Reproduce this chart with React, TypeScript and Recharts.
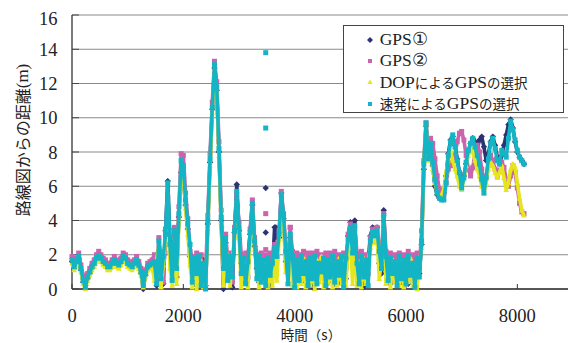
import { ScatterChart, Scatter, XAxis, YAxis, CartesianGrid } from 'recharts'

// time (s), sampled every 40 s
const times = [
  0, 40, 80, 120, 160, 200, 240, 280, 320, 360,
  400, 440, 480, 520, 560, 600, 640, 680, 720, 760,
  800, 840, 880, 920, 960, 1000, 1040, 1080, 1120, 1160,
  1200, 1240, 1280, 1320, 1360, 1400, 1440, 1480, 1520, 1560,
  1600, 1640, 1680, 1720, 1760, 1800, 1840, 1880, 1920, 1960,
  2000, 2040, 2080, 2120, 2160, 2200, 2240, 2280, 2320, 2360,
  2400, 2440, 2480, 2520, 2560, 2600, 2640, 2680, 2720, 2760,
  2800, 2840, 2880, 2920, 2960, 3000, 3040, 3080, 3120, 3160,
  3200, 3240, 3280, 3320, 3360, 3400, 3440, 3480, 3520, 3560,
  3600, 3640, 3680, 3720, 3760, 3800, 3840, 3880, 3920, 3960,
  4000, 4040, 4080, 4120, 4160, 4200, 4240, 4280, 4320, 4360,
  4400, 4440, 4480, 4520, 4560, 4600, 4640, 4680, 4720, 4760,
  4800, 4840, 4880, 4920, 4960, 5000, 5040, 5080, 5120, 5160,
  5200, 5240, 5280, 5320, 5360, 5400, 5440, 5480, 5520, 5560,
  5600, 5640, 5680, 5720, 5760, 5800, 5840, 5880, 5920, 5960,
  6000, 6040, 6080, 6120, 6160, 6200, 6240, 6280, 6320, 6360,
  6400, 6440, 6480, 6520, 6560, 6600, 6640, 6680, 6720, 6760,
  6800, 6840, 6880, 6920, 6960, 7000, 7040, 7080, 7120, 7160,
  7200, 7240, 7280, 7320, 7360, 7400, 7440, 7480, 7520, 7560,
  7600, 7640, 7680, 7720, 7760, 7800, 7840, 7880, 7920, 7960,
  8000, 8040, 8080, 8120,
]

// GPS①
const gps1 = [
  1.6, 1.2, 1.5, 1.8, 1.1, 0.4, 0.2, 0.6, 0.9, 1.2, 1.4, 1.7, 1.8, 1.7, 1.5, 1.4, 1.2, 1.2, 1.4, 1.6,
  1.4, 1.3, 1.5, 1.8, 1.7, 1.4, 1.3, 1.2, 1.4, 1.6, 1.3, 0.9, 0.0, 0.8, 1.2, 1.3, 1.4,
  1.3, 0.2, 2.2, 1.0, 0.3, 3.4, 6.3, 2.8, 1.1, 3.5,
  0.7, 4.2, 6.8, 6.5, 4.9, 3.5, 1.9, 1.0, 0.3, 1.5,
  0.4, 1.3, 1.7, 0.2, 3.8, 7.4, 10.5, 12.9, 11.6, 8.0,
  4.0, 0.0, 2.7, 0.9, 1.4, 0.1, 3.3, 6.1, 3.4, 1.5,
  0.5, 1.2, 1.9, 3.2, 4.9, 2.5, 1.2, 0.4, 1.6, 1.0,
  1.2, 1.5, 0.2, 1.1, 3.6, 3.0, 3.0, 5.6, 4.1, 1.6,
  0.9, 3.0, 1.2, 0.7, 1.5, 1.3, 0.4, 1.5, 1.2, 0.8,
  1.4, 0.1, 1.6, 1.1, 0.6, 1.7, 1.2, 0.9, 0.4, 1.8,
  1.1, 0.3, 1.7, 0.4, 1.4, 1.2, 0.6, 3.1, 3.9, 1.8,
  4.0, 0.9, 1.4, 1.2, 0.1, 1.3, 1.6, 3.1, 3.6, 3.4,
  3.6, 1.5, 0.9, 4.6, 1.1, 1.4, 0.3, 1.2, 1.5, 0.7,
  1.3, 0.4, 1.5, 1.0, 0.3, 1.7, 1.3, 0.5, 1.6, 0.9, 2.6,
  7.0, 9.5, 7.8, 8.3, 7.2, 6.0, 5.5, 5.3, 5.4, 5.6,
  6.6, 7.9, 8.7, 8.9, 8.4, 7.6, 6.8, 6.3, 6.6, 7.3,
  8.0, 8.5, 8.8, 8.6, 8.2, 8.7, 8.9, 8.3, 7.5, 7.9,
  8.6, 8.9, 8.4, 7.7, 7.3, 7.8, 8.4, 9.0, 9.6, 9.9,
  9.4, 8.6, 8.0, 7.7, 7.5, 7.3,
]

// GPS②
const gps2 = [
  1.9, 1.5, 1.8, 2.1, 1.4, 0.8, 0.6, 0.9, 1.2, 1.5, 1.7, 2.0, 2.2, 2.0, 1.8, 1.7, 1.5, 1.5, 1.7, 1.9,
  1.7, 1.6, 1.8, 2.1, 2.0, 1.7, 1.6, 1.5, 1.7, 1.9, 1.6, 1.2, 0.8, 1.1, 1.5, 1.6, 1.7,
  2.0, 0.8, 3.0, 1.9, 0.4, 3.5, 5.4, 2.1, 1.8, 3.6,
  2.0, 4.8, 7.9, 7.8, 5.6, 4.1, 2.2, 1.9, 0.6, 2.1,
  1.2, 2.0, 0.8, 1.0, 4.3, 7.9, 10.9, 13.3, 12.1, 8.6,
  4.6, 2.0, 3.2, 1.6, 2.1, 0.4, 3.6, 5.5, 3.9, 2.0,
  0.9, 2.1, 0.7, 3.5, 5.2, 3.0, 2.0, 1.1, 2.1, 0.8,
  2.0, 0.5, 2.1, 1.3, 2.6, 2.2, 3.4, 5.7, 4.4, 2.4,
  1.9, 3.6, 2.2, 1.4, 2.1, 1.0, 2.0, 2.2, 0.6, 2.1,
  1.2, 2.1, 0.5, 2.2, 1.8, 2.0, 0.7, 2.1, 1.3, 2.1,
  0.8, 2.2, 1.4, 2.0, 0.6, 2.1, 1.2, 3.2, 3.8, 2.4,
  3.5, 2.1, 1.0, 2.2, 1.6, 2.0, 0.9, 3.0, 3.5, 3.3,
  3.6, 2.4, 2.0, 4.4, 2.2, 1.3, 2.1, 0.5, 2.0, 1.5,
  2.1, 0.9, 2.0, 1.4, 2.2, 0.6, 2.0, 1.7, 2.1, 1.2, 3.4,
  7.5, 9.7, 8.0, 8.8, 8.5, 7.6, 6.6, 5.8, 5.3, 5.5,
  6.2, 7.0, 7.4, 7.2, 7.8, 8.6, 9.1, 9.2, 8.7, 7.8,
  7.0, 6.6, 7.1, 7.9, 8.4, 8.0, 7.0, 6.2, 6.6, 7.4,
  7.8, 7.5, 7.0, 6.6, 6.9, 7.4, 7.1, 6.4, 6.0, 6.6,
  7.2, 6.8, 5.9, 5.0, 4.5, 4.4,
]

// DOPによるGPSの選択
const dopSel = [
  1.5, 1.1, 1.4, 1.7, 1.0, 0.3, 0.0, 0.5, 0.8, 1.1, 1.3, 1.6, 1.7, 1.6, 1.4, 1.3, 1.1, 1.1, 1.3, 1.5,
  1.3, 1.2, 1.4, 1.7, 1.6, 1.3, 1.2, 1.1, 1.3, 1.5, 1.2, 0.8, 0.1, 0.7, 1.1, 1.2, 1.3,
  0.5, 1.7, 2.5, 0.1, 1.4, 2.9, 4.6, 1.2, 0.2, 3.0,
  0.3, 4.0, 7.0, 6.6, 4.7, 3.2, 1.4, 0.1, 1.3, 0.0,
  1.1, 1.6, 0.1, 0.3, 3.6, 7.2, 10.3, 12.8, 11.5, 7.8,
  3.9, 0.2, 2.6, 1.5, 0.2, 1.6, 3.0, 5.2, 3.2, 0.1,
  1.2, 1.6, 0.1, 3.0, 4.6, 2.3, 1.5, 0.1, 1.3, 0.4,
  1.6, 0.1, 1.4, 0.2, 1.9, 0.5, 2.9, 5.1, 3.9, 1.0,
  1.5, 2.8, 0.2, 1.3, 0.1, 1.6, 0.3, 1.8, 0.1, 1.4,
  0.2, 1.5, 0.0, 1.7, 0.4, 1.9, 0.1, 1.3, 0.3, 1.6,
  0.1, 1.5, 0.2, 1.8, 0.3, 1.6, 0.2, 2.5, 3.2, 0.3,
  3.2, 0.2, 1.6, 0.1, 1.8, 0.3, 1.5, 2.4, 2.9, 2.7,
  3.0, 0.6, 1.7, 3.9, 0.3, 1.6, 0.1, 1.7, 0.4, 1.5,
  0.2, 1.6, 0.1, 1.3, 0.4, 1.8, 0.2, 1.4, 0.0, 1.5, 2.4,
  7.2, 9.6, 7.5, 8.0, 7.0, 6.2, 5.6, 5.4, 5.5, 5.8,
  6.8, 7.6, 8.1, 7.5, 7.0, 6.6, 6.0, 5.8, 6.4, 7.2,
  7.8, 8.3, 8.0, 7.5, 7.0, 6.6, 6.0, 5.6, 6.2, 7.0,
  7.4, 7.2, 6.8, 6.5, 6.8, 7.2, 6.5, 5.8, 6.2, 7.0,
  7.3, 7.1, 6.2, 5.3, 4.6, 4.3,
]

// 速発によるGPSの選択
const sokuSel = [
  1.7, 1.3, 1.6, 1.9, 1.2, 0.5, 0.1, 0.7, 1.0, 1.3, 1.5, 1.8, 1.9, 1.8, 1.6, 1.5, 1.3, 1.3, 1.5, 1.7,
  1.5, 1.4, 1.6, 1.9, 1.8, 1.5, 1.4, 1.3, 1.5, 1.7, 1.4, 1.0, 0.2, 0.9, 1.3, 1.4, 1.5,
  1.6, 0.3, 2.8, 0.6, 1.9, 3.2, 6.2, 2.6, 0.5, 3.4,
  1.2, 4.4, 7.5, 7.2, 5.2, 3.8, 2.6, 0.4, 1.8, 0.9,
  1.9, 0.2, 1.5, 0.0, 4.0, 7.6, 10.6, 13.1, 11.8, 8.2,
  4.2, 1.2, 3.0, 0.5, 1.9, 0.7, 3.4, 5.7, 3.6, 0.9,
  1.8, 0.3, 1.6, 3.3, 5.0, 2.8, 0.6, 1.9, 0.4, 1.7,
  0.2, 1.8, 0.8, 1.5, 2.4, 1.9, 3.2, 5.5, 4.3, 2.2,
  0.3, 3.2, 1.9, 0.1, 1.7, 0.5, 1.9, 0.9, 1.6, 0.2,
  1.8, 0.6, 1.9, 0.3, 1.5, 1.0, 1.8, 0.2, 1.7, 0.7,
  1.9, 0.4, 1.6, 0.8, 1.9, 0.1, 1.8, 2.9, 3.6, 2.1,
  3.7, 1.5, 0.3, 1.9, 0.7, 1.7, 0.2, 2.8, 3.3, 3.1,
  3.4, 2.2, 1.2, 4.3, 1.9, 0.5, 1.8, 0.9, 1.6, 0.2,
  1.9, 0.6, 1.7, 0.3, 1.9, 0.8, 1.5, 0.1, 1.8, 0.7, 2.8,
  7.3, 9.7, 7.6, 8.5, 7.4, 6.4, 5.6, 5.3, 5.2, 5.2,
  6.2, 7.8, 8.6, 9.0, 8.3, 7.5, 6.8, 5.9, 6.5, 7.4,
  8.1, 8.5, 8.8, 8.3, 7.8, 7.3, 6.4, 5.6, 6.5, 7.6,
  8.5, 8.8, 8.2, 7.5, 7.3, 8.1, 7.9, 7.7, 8.8, 9.8,
  9.3, 8.7, 8.1, 7.7, 7.5, 7.3,
]

// stray single fixes [time, distance]
const gps1Spots = [[3480, 5.9], [3480, 3.3], [3660, 3.6]]
const gps2Spots = [[3480, 4.4], [3480, 2.3], [3920, 3.6]]
const sokuSpots = [[3480, 13.8], [3480, 9.4]]

const xTicks = [0, 2000, 4000, 6000, 8000]
const yTicks = [0, 2, 4, 6, 8, 10, 12, 14, 16]

const NAVY = '#2c3372'
const PINK = '#c964ad'
const YELLOW = '#e6e61e'
const CYAN = '#13b5c5'

const legendItems = [
  { label: 'GPS①', color: NAVY, kind: 'diamond' },
  { label: 'GPS②', color: PINK, kind: 'square' },
  { label: 'DOPによるGPSの選択', color: YELLOW, kind: 'triangle' },
  { label: '速発によるGPSの選択', color: CYAN, kind: 'square' },
]

const toPoints = (vals: number[]) => times.map((t, i) => ({ t, d: vals[i] }))
const spotPoints = (arr: number[][]) => arr.map(([t, d]) => ({ t, d }))

const SERIF = '"Liberation Serif", "Times New Roman", serif'
const CJK = '"Noto Sans CJK JP", sans-serif'
const LINE = { strokeWidth: 3.6, strokeLinejoin: 'round' as const }

const Diamond = (props: any) => {
  const { cx, cy, fill } = props
  return <path d={`M${cx},${cy - 3.2}L${cx + 3.2},${cy}L${cx},${cy + 3.2}L${cx - 3.2},${cy}Z`} fill={fill} />
}
const Square = (props: any) => {
  const { cx, cy, fill } = props
  return <rect x={cx - 2.5} y={cy - 2.5} width={5} height={5} fill={fill} />
}
const Triangle = (props: any) => {
  const { cx, cy, fill } = props
  return <path d={`M${cx},${cy - 3}L${cx + 2.8},${cy + 2.2}L${cx - 2.8},${cy + 2.2}Z`} fill={fill} />
}

const XTitle = () => (
  <text x={303} y={326} textAnchor="middle" dominantBaseline="central" fontSize={13.5} fontFamily={CJK} fill="#222">
    時間（s）
  </text>
)

const YTitle = () => (
  <text x={13.5} y={132} transform="rotate(-90, 13.5, 132)" textAnchor="middle" dominantBaseline="central" fill="#222">
    <tspan fontFamily={CJK} fontSize={16}>路線図からの距離</tspan>
    <tspan fontFamily={SERIF} fontSize={17}>(m)</tspan>
  </text>
)

function MixedLabel({ text }: { text: string }) {
  const parts = text.split(/([\u3040-\u30ff\u4e00-\u9fff]+)/).filter(Boolean)
  return (
    <>
      {parts.map((p, i) =>
        /[\u3040-\u30ff\u4e00-\u9fff]/.test(p) ? (
          <span key={i} style={{ fontFamily: CJK, fontSize: 13.5 }}>{p}</span>
        ) : (
          <span key={i} style={{ fontFamily: SERIF, fontSize: 17.5 }}>{p}</span>
        )
      )}
    </>
  )
}

function LegendMark({ kind, color }: { kind: string; color: string }) {
  return (
    <svg width={8} height={8} style={{ position: 'absolute', left: 22.5, top: 6.7 }}>
      {kind === 'diamond' && <path d="M4,1L7,4L4,7L1,4Z" fill={color} />}
      {kind === 'square' && <rect x={2} y={2} width={4} height={4} fill={color} />}
      {kind === 'triangle' && <path d="M4,1.5L6.6,6L1.4,6Z" fill={color} />}
    </svg>
  )
}

export default function App() {
  return (
    <div style={{ position: 'relative', width: 568, height: 335 }}>
      <ScatterChart width={568} height={335} margin={{ top: 7, right: 3, bottom: 0, left: 0 }}>
        <CartesianGrid vertical={false} stroke="#8a8a8a" strokeWidth={1.2} />
        <XAxis
          type="number"
          dataKey="t"
          domain={[0, 9000]}
          ticks={xTicks}
          height={54}
          tickSize={-5}
          tickMargin={25}
          axisLine={{ stroke: '#333', strokeWidth: 1.3 }}
          tickLine={{ stroke: '#333' }}
          tick={{ fill: '#222', fontSize: 18.5, fontFamily: SERIF }}
          label={<XTitle />}
        />
        <YAxis
          type="number"
          dataKey="d"
          domain={[0, 16]}
          ticks={yTicks}
          width={64}
          tickSize={-7}
          tickMargin={21.5}
          axisLine={{ stroke: '#333', strokeWidth: 1.3 }}
          tickLine={{ stroke: '#444' }}
          tick={{ fill: '#222', fontSize: 18.5, fontFamily: SERIF }}
          label={<YTitle />}
        />
        <Scatter data={toPoints(gps1)} fill={NAVY} shape={Diamond} line={LINE} isAnimationActive={false} />
        <Scatter data={spotPoints(gps1Spots)} fill={NAVY} shape={Diamond} isAnimationActive={false} />
        <Scatter data={toPoints(gps2)} fill={PINK} shape={Square} line={LINE} isAnimationActive={false} />
        <Scatter data={spotPoints(gps2Spots)} fill={PINK} shape={Square} isAnimationActive={false} />
        <Scatter data={toPoints(dopSel)} fill={YELLOW} shape={Triangle} line={LINE} isAnimationActive={false} />
        <Scatter data={toPoints(sokuSel)} fill={CYAN} shape={Square} line={LINE} isAnimationActive={false} />
        <Scatter data={spotPoints(sokuSpots)} fill={CYAN} shape={Square} isAnimationActive={false} />
      </ScatterChart>
      <div
        style={{
          position: 'absolute',
          left: 334.7,
          top: 17,
          width: 221,
          height: 88,
          border: '1px solid #444',
          background: '#fff',
          boxSizing: 'border-box',
          color: '#222',
        }}
      >
        {legendItems.map((it, i) => (
          <div
            key={it.label}
            style={{
              position: 'absolute',
              left: 0,
              top: 3 + i * 21.4,
              height: 21.4,
              width: '100%',
              lineHeight: '21.4px',
              whiteSpace: 'nowrap',
            }}
          >
            <LegendMark kind={it.kind} color={it.color} />
            <span style={{ position: 'absolute', left: 36, top: 0 }}>
              <MixedLabel text={it.label} />
            </span>
          </div>
        ))}
      </div>
    </div>
  )
}
